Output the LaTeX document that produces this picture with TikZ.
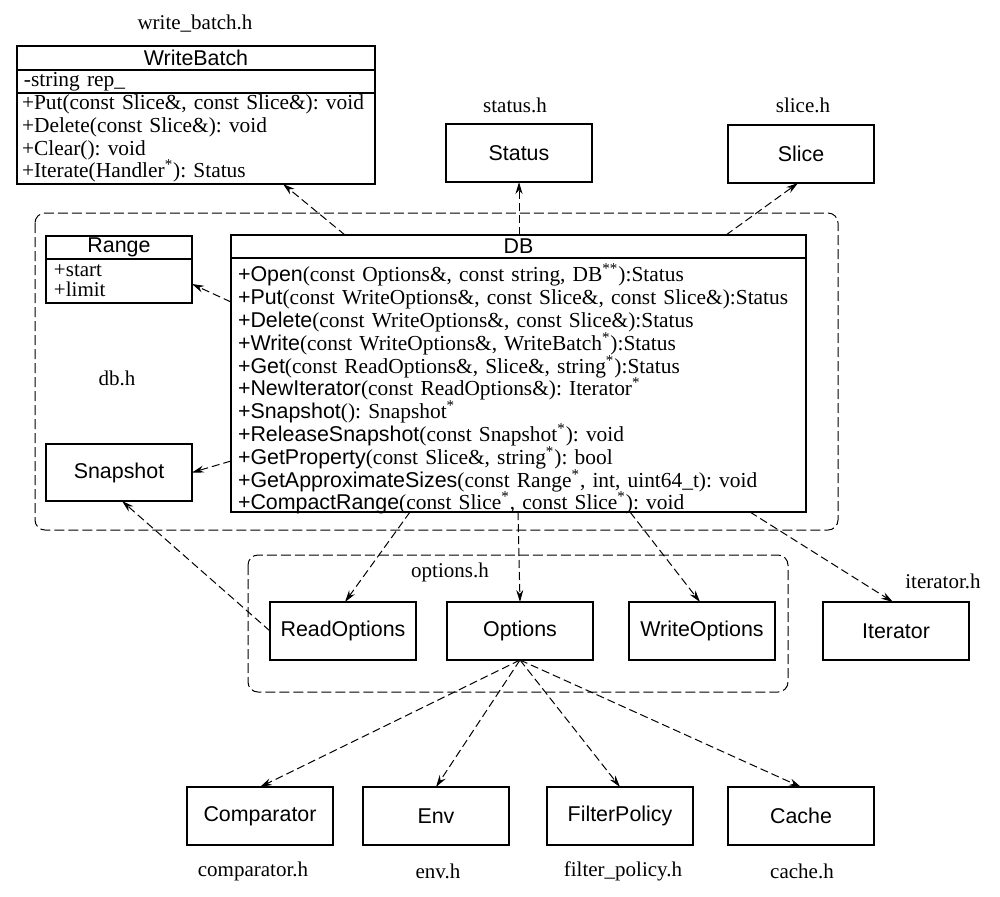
\documentclass[tikz,border=0pt]{standalone}
\usepackage{fontspec}
\setmainfont{Liberation Serif}
\setsansfont{Liberation Sans}
\usetikzlibrary{arrows.meta}
\newcommand{\op}[2]{\textsf{+#1}#2}
\newcommand{\st}{\textsuperscript{*}}
\frenchspacing

\begin{document}
\begin{tikzpicture}[x=0.5pt, y=-0.5pt, outer sep=0pt, inner sep=0pt]
\useasboundingbox (0,0) rectangle (1000,896);

\tikzstyle{box}=[draw, line width=0.6pt, rectangle, minimum width=73pt, minimum height=29pt, anchor=north west, font=\sffamily\fontsize{10.7}{12}\selectfont]
\tikzstyle{head}=[box, minimum height=11.5pt]
\tikzstyle{body}=[draw, line width=0.6pt, rectangle, anchor=north west, align=left, inner xsep=3.5pt, font=\frenchspacing\fontsize{10.7}{11.4}\selectfont]
\tikzstyle{file}=[font=\fontsize{10.5}{12}\selectfont]
\tikzstyle{group}=[draw, line width=0.5pt, dash pattern=on 5pt off 2pt, rounded corners=5pt]
\tikzstyle{dep}=[draw, line width=0.5pt, dash pattern=on 4pt off 2pt, -{Stealth[length=6pt, width=3.5pt]}]

\draw[group] (35,213) rectangle (838,530);
\draw[group] (248,555) rectangle (788,692);

\node[file] (wbfile) at (195,24) {write\_batch.h};
\node[head, minimum width=179pt, minimum height=12pt] (wb) at (17,46) {WriteBatch};
\node[body, text width=174pt, inner xsep=2.5pt, minimum height=11.5pt] (wbattr) at (wb.south west) {\hspace{1pt}-string rep\_};
\node[body, text width=174pt, inner xsep=2.5pt, minimum height=45.5pt] (wbops) at (wbattr.south west) {+Put(const Slice\&, const Slice\&): void\\+Delete(const Slice\&): void\\+Clear(): void\\+Iterate(Handler\st): Status};

\node[file] (statusfile) at (515,105) {status.h}; \node[file] (slicefile) at (803,105) {slice.h};
\node[box] (status) at (446,124) {Status}; \node[box] (slice) at (728,125) {Slice};

\node[head, minimum width=73pt] (range) at (46,236) {Range};
\node[body, text width=65pt, inner xsep=4pt, minimum height=22pt, font=\fontsize{10.5}{10}\selectfont] (rangeattr) at (range.south west) {+start\\+limit};
\node[file] (dbfile) at (117,378) {db.h};
\node[box, minimum height=28.5pt] (snap) at (46,444) {Snapshot};

\node[head, minimum width=287.5pt] (db) at (231,235) {DB};
\node[body, text width=280.5pt, minimum height=127pt, text depth=112pt] (dbops) at (db.south west) {\op{Open}{(const Options\&, const string, DB\textsuperscript{**}):Status}\\
\op{Put}{(const WriteOptions\&, const Slice\&, const Slice\&):Status}\\
\op{Delete}{(const WriteOptions\&, const Slice\&):Status}\\
\op{Write}{(const WriteOptions\&, WriteBatch\st):Status}\\
\op{Get}{(const ReadOptions\&, Slice\&, string\st):Status}\\
\op{NewIterator}{(const ReadOptions\&): Iterator\st}\\
\op{Snapshot}{(): Snapshot\st}\\
\op{ReleaseSnapshot}{(const Snapshot\st): void}\\
\op{GetProperty}{(const Slice\&, string\st): bool}\\
\op{GetApproximateSizes}{(const Range\st, int, uint64\_t): void}\\
\op{CompactRange}{(const Slice\st, const Slice\st): void}};

\node[file] (optfile) at (450,572) {options.h}; \node[file] (iterfile) at (943,581) {iterator.h};
\node[box] (readopt) at (270,602) {ReadOptions}; \node[box] (opt) at (447,602) {Options}; \node[box] (writeopt) at (629,602) {WriteOptions}; \node[box] (iter) at (823,602) {Iterator};

\node[box] (cmp) at (187,787) {Comparator}; \node[box] (env) at (363,787) {Env}; \node[box] (filter) at (547,787) {FilterPolicy}; \node[box] (cache) at (728,787) {Cache};
\node[file] (cmpfile) at (253,871) {comparator.h}; \node[file] (envfile) at (438,871) {env.h}; \node[file] (filterfile) at (623,871) {filter\_policy.h}; \node[file] (cachefile) at (802,871) {cache.h};

\draw[dep] ([xshift=57pt]db.north west) -- ([xshift=133pt]wbops.south west);
\draw[dep] ([xshift=144pt]db.north west) -- (status.south);
\draw[dep] ([xshift=247.5pt]db.north west) -- ([xshift=-1.5pt]slice.south);
\draw[dep] ([yshift=-22pt]dbops.north west) -- ([yshift=-1.5pt]rangeattr.east);
\draw[dep] ([yshift=-101.5pt]dbops.north west) -- (snap.east);
\draw[dep] (readopt.west) -- ([xshift=1.5pt]snap.south);
\draw[dep] ([xshift=89.5pt]dbops.south west) -- ([xshift=1pt]readopt.north);
\draw[dep] ([xshift=143.5pt]dbops.south west) -- (opt.north);
\draw[dep] ([xshift=199.5pt]dbops.south west) -- ([xshift=-1pt]writeopt.north);
\draw[dep] ([xshift=259.5pt]dbops.south west) -- ([xshift=-1.5pt]iter.north);
\foreach \t in {cmp,env,filter,cache} \draw[dep] (opt.south) -- (\t.north);

\end{tikzpicture}
\end{document}
